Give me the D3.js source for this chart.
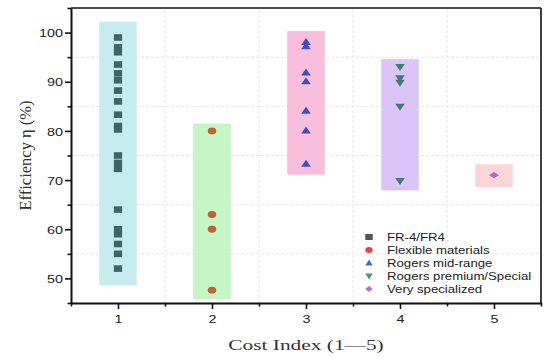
<!DOCTYPE html>
<html><head><meta charset="utf-8">
<script src="https://cdn.jsdelivr.net/npm/d3@7"></script>
<style>body{margin:0;background:#fff}</style>
</head><body><svg id="c" width="550" height="358"></svg>
<script>
const categories = ["FR-4/FR4","Flexible materials","Rogers mid-range","Rogers premium/Special","Very specialized"];
const costIndex = [1,2,3,4,5];
const fr4 = [99,97,96,93.5,91.7,90.3,88.2,86,83.3,81,80.3,75,73.5,72.3,64,60,59,57,55,52];
const flexible = [80,63,60,47.6];
const rogersMid = [98.1,97.2,91.9,90.1,84.1,80.1,73.3];
const rogersPremium = [93,90.7,89.8,84.9,69.8];
const verySpecialized = [71];
const bandLow = [48.6,45.8,71.1,67.9,68.6];
const bandHigh = [102.2,81.5,100.3,94.6,73.2];
const yTicks = [50,60,70,80,90,100];
const yMinor = [45,55,65,75,85,95,105];
const xTicks = [1,2,3,4,5];
const xMinor = [0.5,1.5,2.5,3.5,4.5,5.5];
const gridY = [55,65,75,85,95];
const gridX = [1.5,2.5,3.5,4.5];

const bandColors = ["#c7ecef","#c6f6c6","#f8bedc","#dcc4f9","#fbd6d9"];
const markerColors = ["#3f6466","#c2622c","#3c4ec0","#3e7c74","#b866c8"];
const legendColors = ["#555555","#e8453c","#3a6fd0","#3aa070","#b070e0"];
const shapes = ["square","circle","up","down","diamond"];
const seriesValues = [fr4, flexible, rogersMid, rogersPremium, verySpecialized];

const svg = d3.select("#c");
const x = d3.scaleLinear().domain([0.5,5.5]).range([71,541]);
const y = d3.scaleLinear().domain([45,105]).range([303,8]);
const SX = 1.25;

function shapePath(s, w, h){
  const a=w/2, b=h/2;
  if(s==="square") return `M${-a},${-b}H${a}V${b}H${-a}Z`;
  if(s==="circle") return `M${-a},0A${a},${b} 0 1,0 ${a},0A${a},${b} 0 1,0 ${-a},0Z`;
  if(s==="up") return `M0,${-b*1.15}L${a},${b*0.85}L${-a},${b*0.85}Z`;
  if(s==="down") return `M0,${b*1.15}L${a},${-b*0.85}L${-a},${-b*0.85}Z`;
  return `M0,${-b}L${a},0L0,${b}L${-a},0Z`;
}
const markerSize = {square:[8.2,6.6],circle:[8.4,6.8],up:[9.6,7],down:[9.6,7],diamond:[10,6.4]};

// grid
svg.append("g").selectAll("line").data(gridY).join("line")
  .attr("x1",x(0.5)).attr("x2",x(5.5)).attr("y1",d=>y(d)).attr("y2",d=>y(d))
  .attr("stroke","#e6e6e6").attr("stroke-width",1).attr("stroke-dasharray","3,2");
svg.append("g").selectAll("line").data(gridX).join("line")
  .attr("y1",y(45)).attr("y2",y(105)).attr("x1",d=>x(d)).attr("x2",d=>x(d))
  .attr("stroke","#e6e6e6").attr("stroke-width",1).attr("stroke-dasharray","3,2");

// bands
svg.append("g").selectAll("rect").data(costIndex).join("rect")
  .attr("x",(d)=>x(d-0.2)).attr("width",(d)=>x(d+0.2)-x(d-0.2))
  .attr("y",(d,i)=>y(bandHigh[i])).attr("height",(d,i)=>y(bandLow[i])-y(bandHigh[i]))
  .attr("fill",(d,i)=>bandColors[i]);

// markers
seriesValues.forEach((vals,i)=>{
  const s = shapes[i], sz = markerSize[s];
  svg.append("g").selectAll("path").data(vals).join("path")
    .attr("d", shapePath(s, sz[0], sz[1]))
    .attr("transform", v=>`translate(${x(costIndex[i])},${y(v)})`)
    .attr("fill", markerColors[i]);
});

// axes
const tickFont = "'Liberation Sans', Arial, sans-serif";
const yAxis = svg.append("g").attr("transform",`translate(${x(0.5)},0)`)
  .call(d3.axisLeft(y).tickValues(yTicks).tickSize(6).tickSizeOuter(0).tickFormat(d3.format("d")));
svg.append("g").attr("transform",`translate(${x(0.5)},0)`)
  .call(d3.axisLeft(y).tickValues(yMinor).tickSize(3.5).tickFormat("").tickSizeOuter(0))
  .select(".domain").remove();
const xAxis = svg.append("g").attr("transform",`translate(0,${y(45)})`)
  .call(d3.axisBottom(x).tickValues(xTicks).tickSize(6).tickSizeOuter(0).tickFormat(d3.format("d")));
svg.append("g").attr("transform",`translate(0,${y(45)})`)
  .call(d3.axisBottom(x).tickValues(xMinor).tickSize(3.5).tickFormat("").tickSizeOuter(0))
  .select(".domain").remove();
svg.selectAll(".tick line").attr("stroke","#111").attr("stroke-width",1.6);
svg.selectAll(".domain").attr("stroke","#111").attr("stroke-width",2);
yAxis.selectAll("text").attr("x",null).attr("dy","0.36em")
  .attr("transform",`translate(-8,0) scale(${SX},1)`)
  .attr("font-family",tickFont).attr("font-size",11.5).attr("fill","#222");
xAxis.selectAll("text").attr("y",null).attr("dy","0.36em")
  .attr("transform",`translate(0,16) scale(${SX},1)`)
  .attr("font-family",tickFont).attr("font-size",11.5).attr("fill","#222");

// frame top/right
svg.append("line").attr("x1",x(0.5)).attr("x2",x(5.5)).attr("y1",y(105)).attr("y2",y(105))
  .attr("stroke","#111").attr("stroke-width",1.6);
svg.append("line").attr("x1",x(5.5)).attr("x2",x(5.5)).attr("y1",y(105)).attr("y2",y(45))
  .attr("stroke","#111").attr("stroke-width",1.6);

// titles
svg.append("text").attr("transform",`translate(${(x(0.5)+x(5.5))/2},350) scale(1.38,1)`)
  .attr("text-anchor","middle").attr("font-family","'Liberation Serif','Times New Roman',serif")
  .attr("font-size",15.5).attr("fill","#333").text("Cost Index (1—5)");
svg.append("text").attr("transform",`translate(31,${(y(45)+y(105))/2}) rotate(-90)`)
  .attr("text-anchor","middle").attr("font-family","'Liberation Serif','Times New Roman',serif")
  .attr("font-size",16.5).attr("fill","#333").text("Efficiency η (%)");

// legend
const leg = svg.append("g");
categories.forEach((c,i)=>{
  const ly = 237 + i*13;
  leg.append("path").attr("d",shapePath(shapes[i],7.5,6))
    .attr("transform",`translate(369,${ly})`).attr("fill",legendColors[i]);
  leg.append("text").attr("transform",`translate(387,${ly}) scale(1.2,1)`)
    .attr("dy","0.36em").attr("font-family",tickFont).attr("font-size",11)
    .attr("fill","#222").text(c);
});
</script></body></html>
